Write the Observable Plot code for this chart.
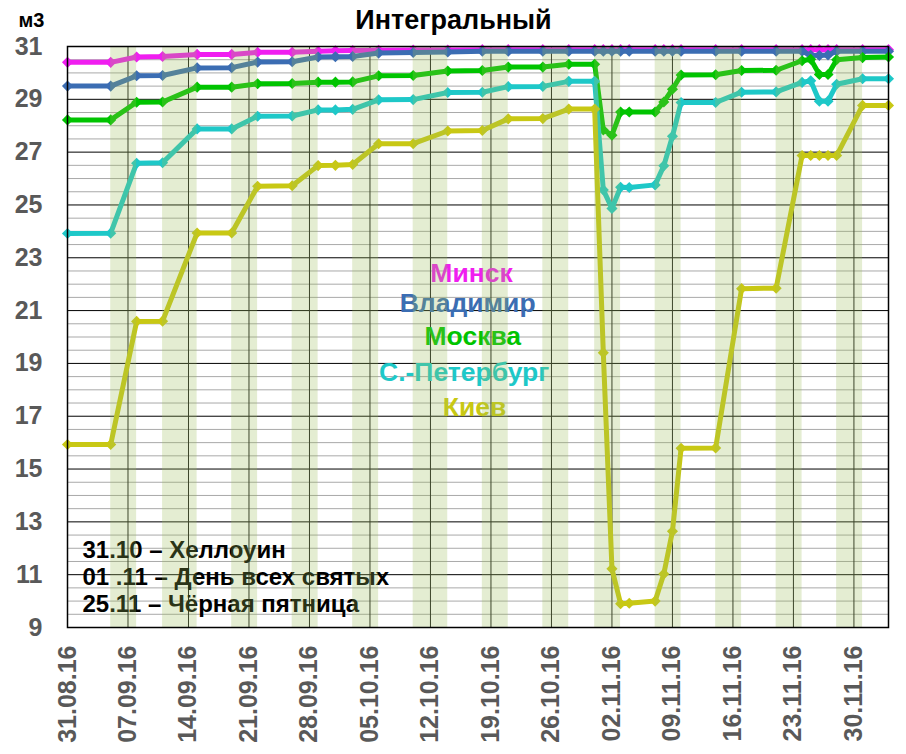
<!DOCTYPE html>
<html><head><meta charset="utf-8">
<script src="https://cdn.jsdelivr.net/npm/d3@7"></script>
<script src="https://cdn.jsdelivr.net/npm/@observablehq/plot@0.6"></script>
<style>body{margin:0;background:#fff;}</style>
</head><body><div id="chart"></div>
<script>
const dates = ["2016-08-31","2016-09-05","2016-09-08","2016-09-11","2016-09-15","2016-09-19","2016-09-22","2016-09-26","2016-09-29","2016-10-01","2016-10-03","2016-10-06","2016-10-10","2016-10-14","2016-10-18","2016-10-21","2016-10-25","2016-10-28","2016-10-31","2016-11-01","2016-11-02","2016-11-03","2016-11-04","2016-11-07","2016-11-08","2016-11-09","2016-11-10","2016-11-14","2016-11-17","2016-11-21","2016-11-24","2016-11-25","2016-11-26","2016-11-27","2016-11-28","2016-12-01","2016-12-04"];
const minsk    = [30.40,30.40,30.60,30.62,30.70,30.70,30.78,30.78,30.82,30.84,30.85,30.86,30.87,30.87,30.88,30.88,30.88,30.88,30.88,30.88,30.88,30.88,30.88,30.88,30.88,30.88,30.88,30.88,30.88,30.88,30.88,30.88,30.88,30.88,30.88,30.88,30.88];
const vladimir = [29.50,29.50,29.89,29.90,30.19,30.20,30.41,30.42,30.60,30.61,30.62,30.75,30.77,30.79,30.82,30.82,30.82,30.82,30.82,30.82,30.82,30.82,30.82,30.82,30.82,30.82,30.82,30.82,30.82,30.82,30.82,30.67,30.66,30.68,30.82,30.82,30.82];
const moscow   = [28.22,28.22,28.89,28.90,29.46,29.46,29.59,29.60,29.65,29.65,29.66,29.89,29.90,30.07,30.09,30.22,30.22,30.33,30.33,27.84,27.64,28.52,28.52,28.52,28.90,29.38,29.92,29.93,30.09,30.10,30.46,30.52,29.94,29.94,30.50,30.58,30.60];
const spb      = [23.92,23.93,26.58,26.60,27.88,27.88,28.36,28.37,28.60,28.60,28.62,28.98,28.99,29.26,29.27,29.48,29.49,29.68,29.68,25.57,24.87,25.67,25.66,25.76,26.48,27.60,28.88,28.88,29.27,29.28,29.64,29.70,28.93,28.93,29.57,29.78,29.78];
const kiev     = [15.93,15.93,20.59,20.60,23.94,23.94,25.71,25.73,26.49,26.50,26.53,27.32,27.32,27.80,27.82,28.26,28.27,28.63,28.63,19.40,11.22,9.90,9.92,10.00,11.03,12.64,15.79,15.80,21.83,21.85,26.87,26.87,26.87,26.87,26.87,28.77,28.77];
const seriesNames = ["Минск","Владимир","Москва","С.-Петербург","Киев"];
const seriesValues = [minsk, vladimir, moscow, spb, kiev];
const seriesColors = ["#f01ef0","#3b6db3","#00c400","#1ec8c8","#c8c814"];
const bandStart = ["2016-09-05","2016-09-11","2016-09-19","2016-09-26","2016-10-03","2016-10-10","2016-10-18","2016-10-25","2016-10-31","2016-11-07","2016-11-14","2016-11-21","2016-11-28"];
const bandEnd   = ["2016-09-08","2016-09-15","2016-09-22","2016-09-29","2016-10-06","2016-10-14","2016-10-21","2016-10-28","2016-11-03","2016-11-10","2016-11-17","2016-11-24","2016-12-01"];
const xTicks = ["2016-08-31","2016-09-07","2016-09-14","2016-09-21","2016-09-28","2016-10-05","2016-10-12","2016-10-19","2016-10-26","2016-11-02","2016-11-09","2016-11-16","2016-11-23","2016-11-30"];
const yTicks = [9,11,13,15,17,19,21,23,25,27,29,31];
const title = "Интегральный";
const unitLabel = "м3";
const notes = ["31.10 – Хеллоуин","01 .11 – День всех святых","25.11 – Чёрная пятница"];

const parse = s => new Date(s + "T00:00:00Z");
const rowsBySeries = seriesNames.map((name, k) =>
  dates.map((d, i) => ({date: parse(d), value: seriesValues[k][i], series: name})));
const bands = bandStart.map((s, i) => ({start: parse(s), end: parse(bandEnd[i])}));
const xTickDates = xTicks.map(parse);
const minorTicks = d3.range(9.5, 31, 0.5).filter(v => !yTicks.includes(v));

// label placement (day offset from 31.08, value)
const origin = Date.UTC(2016, 7, 31);
const labelPos = [[46.75, 22.40],[46.3, 21.27],[46.9, 20.02],[45.9, 18.66],[47.1, 17.33]];
const legendRows = seriesNames.map((n, i) => ({name: n, color: seriesColors[i],
  x: new Date(origin + labelPos[i][0] * 864e5), y: labelPos[i][1]}));

const marks = [
  Plot.ruleY(minorTicks, {stroke: "#a9a9a9", strokeWidth: 1}),
  Plot.ruleY(yTicks, {stroke: "#000", strokeWidth: 1}),
  Plot.ruleX(xTickDates, {stroke: "#1a1a1a", strokeWidth: 1}),
];
rowsBySeries.forEach((rows, k) => {
  marks.push(Plot.line(rows, {x: "date", y: "value", stroke: seriesColors[k], strokeWidth: 5, strokeLinejoin: "round"}));
  marks.push(Plot.dot(rows, {x: "date", y: "value", symbol: "diamond2", fill: seriesColors[k], stroke: "none", r: 5}));
});
marks.push(
  Plot.text(legendRows, {x: "x", y: "y", text: "name", fill: d => d.color, fontSize: 26.5, fontWeight: "bold", textAnchor: "middle", lineAnchor: "middle"}),
  Plot.text([notes.join("\n")], {frameAnchor: "bottom-left", dx: 15, dy: -51, textAnchor: "start", lineAnchor: "middle", lineHeight: 1.13, fontSize: 24, fontWeight: "bold", fill: "#000"}),
  Plot.rect(bands, {x1: "start", x2: "end", fill: "#9bbb59", fillOpacity: 0.27}),
  Plot.frame({stroke: "#000", strokeWidth: 1.5}),
  Plot.axisY(yTicks, {tickSize: 0, tickPadding: 25, fontSize: 25, fontWeight: "bold", fill: "#595959", label: null}),
  Plot.axisX(xTickDates, {tickSize: 0, tickPadding: 18, tickRotate: -90, tickFormat: d3.utcFormat("%d.%m.%y"), fontSize: 25, fontWeight: "bold", fill: "#595959", label: null}),
  Plot.text([title], {frameAnchor: "top-left", dx: 386, dy: -26, textAnchor: "middle", lineAnchor: "middle", fontSize: 27, fontWeight: "bold", fill: "#000"}),
  Plot.text([unitLabel], {frameAnchor: "top-left", dx: -36, dy: -26, textAnchor: "middle", lineAnchor: "middle", fontSize: 20, fontWeight: "bold", fill: "#000"})
);

const chart = Plot.plot({
  width: 906, height: 754,
  marginLeft: 67, marginRight: 18, marginTop: 46, marginBottom: 127,
  style: {fontFamily: "'Liberation Sans', Arial, sans-serif", background: "#fff"},
  x: {type: "utc", domain: [parse("2016-08-31"), parse("2016-12-04")]},
  y: {domain: [9, 31]},
  marks
});
document.getElementById("chart").appendChild(chart);
</script>
</body></html>
